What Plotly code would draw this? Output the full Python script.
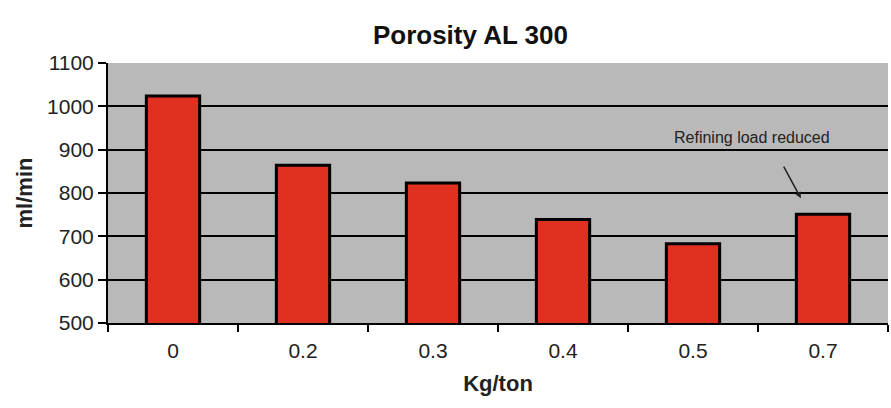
import plotly.graph_objects as go

categories = ["0", "0.2", "0.3", "0.4", "0.5", "0.7"]
porosity = [1024, 864, 823, 739, 683, 751]
y_ticks = [500, 600, 700, 800, 900, 1000, 1100]

fig = go.Figure()
fig.add_trace(go.Bar(
    x=categories, y=porosity,
    marker=dict(color="#e03020", line=dict(color="black", width=3)),
    width=0.41,
))

fig.add_annotation(x=4.83, y=788, xref="x", yref="y", text="",
                   showarrow=True, arrowhead=2, arrowsize=0.8, arrowwidth=1.5,
                   arrowcolor="#222", ax=-18, ay=-33)
fig.add_annotation(x=4.45, y=928, xref="x", yref="y", text="Refining load reduced",
                   showarrow=False, font=dict(family="Liberation Sans, Arial", size=16, color="#222"))

fig.update_layout(
    width=891, height=408,
    margin=dict(l=108, r=3, t=63, b=85),
    paper_bgcolor="white", plot_bgcolor="#b9b9b9",
    title=dict(text="<b>Porosity AL 300</b>", x=0.528, xanchor="center", y=0.915, yanchor="middle",
               font=dict(family="Liberation Sans, Arial", size=26, color="#111")),
    font=dict(family="Liberation Sans, Arial", color="#222"),
    showlegend=False,
    bargap=0.59,
)
fig.update_xaxes(type="category", showline=True, linecolor="black", linewidth=2,
                 ticks="outside", tickson="boundaries", ticklen=7, tickcolor="black", tickwidth=2,
                 tickfont=dict(size=21), showgrid=False, ticklabelstandoff=8,
                 title=dict(text="<b>Kg/ton</b>", font=dict(size=22), standoff=14))
fig.update_yaxes(range=[500, 1100], tickvals=y_ticks, showline=True, linecolor="black", linewidth=2,
                 ticks="outside", ticklen=8, tickcolor="black", tickwidth=2,
                 tickfont=dict(size=21), showgrid=True, gridcolor="black", gridwidth=1.5,
                 zeroline=False,
                 title=dict(text="<b>ml/min</b>", font=dict(size=22), standoff=8))

fig.write_html("out.html")
